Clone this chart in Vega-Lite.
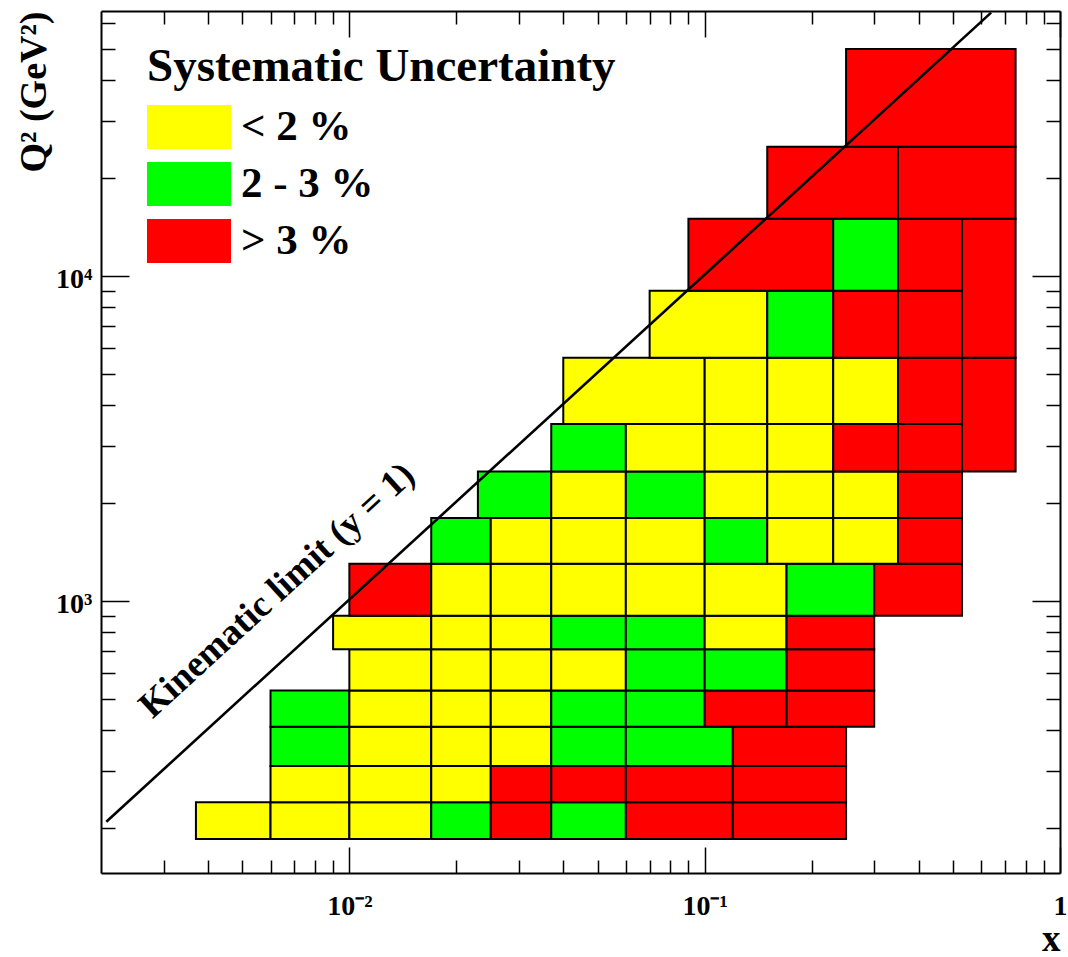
{
  "$schema": "https://vega.github.io/schema/vega-lite/v6.json",
  "width": 959,
  "height": 862,
  "autosize": {"type": "none"},
  "padding": {"left": 101, "top": 11, "right": 8, "bottom": 84},
  "background": "white",
  "config": {
    "view": {"stroke": null},
    "font": "Liberation Serif"
  },
  "datasets": {
    "cells": [
      {"x1": 0.0037, "x2": 0.006, "q1": 185, "q2": 240, "u": "< 2 %"},
      {"x1": 0.006, "x2": 0.01, "q1": 185, "q2": 240, "u": "< 2 %"},
      {"x1": 0.01, "x2": 0.017, "q1": 185, "q2": 240, "u": "< 2 %"},
      {"x1": 0.017, "x2": 0.025, "q1": 185, "q2": 240, "u": "2 - 3 %"},
      {"x1": 0.025, "x2": 0.037, "q1": 185, "q2": 240, "u": "> 3 %"},
      {"x1": 0.037, "x2": 0.06, "q1": 185, "q2": 240, "u": "2 - 3 %"},
      {"x1": 0.06, "x2": 0.12, "q1": 185, "q2": 240, "u": "> 3 %"},
      {"x1": 0.12, "x2": 0.25, "q1": 185, "q2": 240, "u": "> 3 %"},

      {"x1": 0.006, "x2": 0.01, "q1": 240, "q2": 310, "u": "< 2 %"},
      {"x1": 0.01, "x2": 0.017, "q1": 240, "q2": 310, "u": "< 2 %"},
      {"x1": 0.017, "x2": 0.025, "q1": 240, "q2": 310, "u": "< 2 %"},
      {"x1": 0.025, "x2": 0.037, "q1": 240, "q2": 310, "u": "> 3 %"},
      {"x1": 0.037, "x2": 0.06, "q1": 240, "q2": 310, "u": "> 3 %"},
      {"x1": 0.06, "x2": 0.12, "q1": 240, "q2": 310, "u": "> 3 %"},
      {"x1": 0.12, "x2": 0.25, "q1": 240, "q2": 310, "u": "> 3 %"},

      {"x1": 0.006, "x2": 0.01, "q1": 310, "q2": 410, "u": "2 - 3 %"},
      {"x1": 0.01, "x2": 0.017, "q1": 310, "q2": 410, "u": "< 2 %"},
      {"x1": 0.017, "x2": 0.025, "q1": 310, "q2": 410, "u": "< 2 %"},
      {"x1": 0.025, "x2": 0.037, "q1": 310, "q2": 410, "u": "< 2 %"},
      {"x1": 0.037, "x2": 0.06, "q1": 310, "q2": 410, "u": "2 - 3 %"},
      {"x1": 0.06, "x2": 0.12, "q1": 310, "q2": 410, "u": "2 - 3 %"},
      {"x1": 0.12, "x2": 0.25, "q1": 310, "q2": 410, "u": "> 3 %"},

      {"x1": 0.006, "x2": 0.01, "q1": 410, "q2": 530, "u": "2 - 3 %"},
      {"x1": 0.01, "x2": 0.017, "q1": 410, "q2": 530, "u": "< 2 %"},
      {"x1": 0.017, "x2": 0.025, "q1": 410, "q2": 530, "u": "< 2 %"},
      {"x1": 0.025, "x2": 0.037, "q1": 410, "q2": 530, "u": "< 2 %"},
      {"x1": 0.037, "x2": 0.06, "q1": 410, "q2": 530, "u": "2 - 3 %"},
      {"x1": 0.06, "x2": 0.1, "q1": 410, "q2": 530, "u": "2 - 3 %"},
      {"x1": 0.1, "x2": 0.17, "q1": 410, "q2": 530, "u": "> 3 %"},
      {"x1": 0.17, "x2": 0.3, "q1": 410, "q2": 530, "u": "> 3 %"},

      {"x1": 0.01, "x2": 0.017, "q1": 530, "q2": 710, "u": "< 2 %"},
      {"x1": 0.017, "x2": 0.025, "q1": 530, "q2": 710, "u": "< 2 %"},
      {"x1": 0.025, "x2": 0.037, "q1": 530, "q2": 710, "u": "< 2 %"},
      {"x1": 0.037, "x2": 0.06, "q1": 530, "q2": 710, "u": "< 2 %"},
      {"x1": 0.06, "x2": 0.1, "q1": 530, "q2": 710, "u": "2 - 3 %"},
      {"x1": 0.1, "x2": 0.17, "q1": 530, "q2": 710, "u": "2 - 3 %"},
      {"x1": 0.17, "x2": 0.3, "q1": 530, "q2": 710, "u": "> 3 %"},

      {"x1": 0.009, "x2": 0.017, "q1": 710, "q2": 900, "u": "< 2 %"},
      {"x1": 0.017, "x2": 0.025, "q1": 710, "q2": 900, "u": "< 2 %"},
      {"x1": 0.025, "x2": 0.037, "q1": 710, "q2": 900, "u": "< 2 %"},
      {"x1": 0.037, "x2": 0.06, "q1": 710, "q2": 900, "u": "2 - 3 %"},
      {"x1": 0.06, "x2": 0.1, "q1": 710, "q2": 900, "u": "2 - 3 %"},
      {"x1": 0.1, "x2": 0.17, "q1": 710, "q2": 900, "u": "< 2 %"},
      {"x1": 0.17, "x2": 0.3, "q1": 710, "q2": 900, "u": "> 3 %"},

      {"x1": 0.01, "x2": 0.017, "q1": 900, "q2": 1300, "u": "> 3 %"},
      {"x1": 0.017, "x2": 0.025, "q1": 900, "q2": 1300, "u": "< 2 %"},
      {"x1": 0.025, "x2": 0.037, "q1": 900, "q2": 1300, "u": "< 2 %"},
      {"x1": 0.037, "x2": 0.06, "q1": 900, "q2": 1300, "u": "< 2 %"},
      {"x1": 0.06, "x2": 0.1, "q1": 900, "q2": 1300, "u": "< 2 %"},
      {"x1": 0.1, "x2": 0.17, "q1": 900, "q2": 1300, "u": "< 2 %"},
      {"x1": 0.17, "x2": 0.3, "q1": 900, "q2": 1300, "u": "2 - 3 %"},
      {"x1": 0.3, "x2": 0.53, "q1": 900, "q2": 1300, "u": "> 3 %"},

      {"x1": 0.017, "x2": 0.025, "q1": 1300, "q2": 1800, "u": "2 - 3 %"},
      {"x1": 0.025, "x2": 0.037, "q1": 1300, "q2": 1800, "u": "< 2 %"},
      {"x1": 0.037, "x2": 0.06, "q1": 1300, "q2": 1800, "u": "< 2 %"},
      {"x1": 0.06, "x2": 0.1, "q1": 1300, "q2": 1800, "u": "< 2 %"},
      {"x1": 0.1, "x2": 0.15, "q1": 1300, "q2": 1800, "u": "2 - 3 %"},
      {"x1": 0.15, "x2": 0.23, "q1": 1300, "q2": 1800, "u": "< 2 %"},
      {"x1": 0.23, "x2": 0.35, "q1": 1300, "q2": 1800, "u": "< 2 %"},
      {"x1": 0.35, "x2": 0.53, "q1": 1300, "q2": 1800, "u": "> 3 %"},

      {"x1": 0.023, "x2": 0.037, "q1": 1800, "q2": 2500, "u": "2 - 3 %"},
      {"x1": 0.037, "x2": 0.06, "q1": 1800, "q2": 2500, "u": "< 2 %"},
      {"x1": 0.06, "x2": 0.1, "q1": 1800, "q2": 2500, "u": "2 - 3 %"},
      {"x1": 0.1, "x2": 0.15, "q1": 1800, "q2": 2500, "u": "< 2 %"},
      {"x1": 0.15, "x2": 0.23, "q1": 1800, "q2": 2500, "u": "< 2 %"},
      {"x1": 0.23, "x2": 0.35, "q1": 1800, "q2": 2500, "u": "< 2 %"},
      {"x1": 0.35, "x2": 0.53, "q1": 1800, "q2": 2500, "u": "> 3 %"},

      {"x1": 0.037, "x2": 0.06, "q1": 2500, "q2": 3500, "u": "2 - 3 %"},
      {"x1": 0.06, "x2": 0.1, "q1": 2500, "q2": 3500, "u": "< 2 %"},
      {"x1": 0.1, "x2": 0.15, "q1": 2500, "q2": 3500, "u": "< 2 %"},
      {"x1": 0.15, "x2": 0.23, "q1": 2500, "q2": 3500, "u": "< 2 %"},
      {"x1": 0.23, "x2": 0.35, "q1": 2500, "q2": 3500, "u": "> 3 %"},
      {"x1": 0.35, "x2": 0.53, "q1": 2500, "q2": 3500, "u": "> 3 %"},
      {"x1": 0.53, "x2": 0.75, "q1": 2500, "q2": 5600, "u": "> 3 %"},

      {"x1": 0.04, "x2": 0.1, "q1": 3500, "q2": 5600, "u": "< 2 %"},
      {"x1": 0.1, "x2": 0.15, "q1": 3500, "q2": 5600, "u": "< 2 %"},
      {"x1": 0.15, "x2": 0.23, "q1": 3500, "q2": 5600, "u": "< 2 %"},
      {"x1": 0.23, "x2": 0.35, "q1": 3500, "q2": 5600, "u": "< 2 %"},
      {"x1": 0.35, "x2": 0.53, "q1": 3500, "q2": 5600, "u": "> 3 %"},

      {"x1": 0.07, "x2": 0.15, "q1": 5600, "q2": 9000, "u": "< 2 %"},
      {"x1": 0.15, "x2": 0.23, "q1": 5600, "q2": 9000, "u": "2 - 3 %"},
      {"x1": 0.23, "x2": 0.35, "q1": 5600, "q2": 9000, "u": "> 3 %"},
      {"x1": 0.35, "x2": 0.53, "q1": 5600, "q2": 9000, "u": "> 3 %"},
      {"x1": 0.53, "x2": 0.75, "q1": 5600, "q2": 15000, "u": "> 3 %"},

      {"x1": 0.09, "x2": 0.23, "q1": 9000, "q2": 15000, "u": "> 3 %"},
      {"x1": 0.23, "x2": 0.35, "q1": 9000, "q2": 15000, "u": "2 - 3 %"},
      {"x1": 0.35, "x2": 0.53, "q1": 9000, "q2": 15000, "u": "> 3 %"},

      {"x1": 0.15, "x2": 0.35, "q1": 15000, "q2": 25000, "u": "> 3 %"},
      {"x1": 0.35, "x2": 0.75, "q1": 15000, "q2": 25000, "u": "> 3 %"},

      {"x1": 0.25, "x2": 0.75, "q1": 25000, "q2": 50000, "u": "> 3 %"}
    ],
    "limit": [
      {"x": 0.00207, "q2": 209},
      {"x": 0.64, "q2": 64640}
    ],
    "note": [
      {"x": 0.00626, "q2": 1075, "label": "Kinematic limit (y = 1)"}
    ]
  },
  "layer": [
    {
      "data": {"name": "cells"},
      "mark": {"type": "rect", "stroke": "black", "strokeWidth": 2},
      "encoding": {
        "x": {
          "field": "x1", "type": "quantitative",
          "scale": {"type": "log", "domain": [0.002, 1], "nice": false, "zero": false},
          "axis": {
            "orient": "bottom",
            "values": [0.003, 0.004, 0.005, 0.006, 0.007, 0.008, 0.009, 0.01, 0.02, 0.03, 0.04, 0.05, 0.06, 0.07, 0.08, 0.09, 0.1, 0.2, 0.3, 0.4, 0.5, 0.6, 0.7, 0.8, 0.9, 1],
            "labelExpr": "datum.value == 0.01 ? '10⁻²' : datum.value == 0.1 ? '10⁻¹' : datum.value == 1 ? '1' : ''",
            "tickSize": {"condition": {"test": "datum.value == 0.01 || datum.value == 0.1 || datum.value == 1", "value": -26}, "value": -13},
            "tickWidth": 1.5, "tickColor": "black",
            "domainColor": "black", "domainWidth": 2,
            "grid": false,
            "labelFont": "Liberation Serif", "labelFontWeight": "bold", "labelFontSize": 28, "labelColor": "black",
            "labelBaseline": "alphabetic", "labelPadding": 67, "labelFlush": false, "labelOverlap": false,
            "title": "x",
            "titleFont": "Liberation Serif", "titleFontWeight": "bold", "titleFontSize": 37, "titleColor": "black",
            "titleX": 959, "titleY": 77, "titleAlign": "right", "titleBaseline": "alphabetic",
            "zindex": 1
          }
        },
        "x2": {"field": "x2"},
        "y": {
          "field": "q1", "type": "quantitative",
          "scale": {"type": "log", "domain": [145.3, 65400], "nice": false, "zero": false},
          "axis": {
            "orient": "left",
            "values": [200, 300, 400, 500, 600, 700, 800, 900, 1000, 2000, 3000, 4000, 5000, 6000, 7000, 8000, 9000, 10000, 20000, 30000, 40000, 50000, 60000],
            "labelExpr": "datum.value == 1000 ? '10³' : datum.value == 10000 ? '10⁴' : ''",
            "tickSize": {"condition": {"test": "datum.value == 1000 || datum.value == 10000", "value": -28}, "value": -14},
            "tickWidth": 1.5, "tickColor": "black",
            "domainColor": "black", "domainWidth": 2,
            "grid": false,
            "labelFont": "Liberation Serif", "labelFontWeight": "bold", "labelFontSize": 28, "labelColor": "black",
            "labelAlign": "right", "labelBaseline": "middle", "labelPadding": 37, "labelOffset": 4, "labelFlush": false, "labelOverlap": false,
            "title": "Q² (GeV²)",
            "titleFont": "Liberation Serif", "titleFontWeight": "bold", "titleFontSize": 38, "titleColor": "black",
            "titleX": -56, "titleY": 0, "titleAngle": -90, "titleAlign": "right", "titleBaseline": "alphabetic",
            "zindex": 1
          }
        },
        "y2": {"field": "q2"},
        "color": {
          "field": "u", "type": "nominal",
          "scale": {"domain": ["< 2 %", "2 - 3 %", "> 3 %"], "range": ["#ffff00", "#00ff00", "#ff0000"]},
          "legend": {
            "orient": "none", "legendX": 46, "legendY": 33, "padding": 0,
            "title": "Systematic Uncertainty",
            "titleFont": "Liberation Serif", "titleFontSize": 47, "titleFontWeight": "bold", "titleColor": "black", "titlePadding": 14, "titleLimit": 700,
            "symbolType": "M-1.909,-1H1.909V1H-1.909Z", "symbolSize": 1936, "symbolStrokeWidth": 0, "symbolOffset": 20, "symbolOpacity": 1,
            "labelFont": "Liberation Serif", "labelFontSize": 43, "labelFontWeight": "bold", "labelColor": "black", "labelOffset": 30, "labelLimit": 400,
            "rowPadding": 13,
            "encode": {"labels": {"update": {"dy": {"value": 8}}}}
          }
        }
      }
    },
    {
      "data": {"name": "limit"},
      "mark": {"type": "line", "color": "black", "strokeWidth": 2.6, "clip": true},
      "encoding": {
        "x": {
          "field": "x", "type": "quantitative",
          "scale": {"type": "log", "domain": [0.002, 1], "nice": false, "zero": false},
          "axis": {
            "orient": "top",
            "values": [0.003, 0.004, 0.005, 0.006, 0.007, 0.008, 0.009, 0.01, 0.02, 0.03, 0.04, 0.05, 0.06, 0.07, 0.08, 0.09, 0.1, 0.2, 0.3, 0.4, 0.5, 0.6, 0.7, 0.8, 0.9, 1],
            "labels": false,
            "tickSize": {"condition": {"test": "datum.value == 0.01 || datum.value == 0.1 || datum.value == 1", "value": -26}, "value": -13},
            "tickWidth": 1.5, "tickColor": "black",
            "domainColor": "black", "domainWidth": 2,
            "grid": false, "title": null, "zindex": 1
          }
        },
        "y": {
          "field": "q2", "type": "quantitative",
          "scale": {"type": "log", "domain": [145.3, 65400], "nice": false, "zero": false},
          "axis": {
            "orient": "right",
            "values": [200, 300, 400, 500, 600, 700, 800, 900, 1000, 2000, 3000, 4000, 5000, 6000, 7000, 8000, 9000, 10000, 20000, 30000, 40000, 50000, 60000],
            "labels": false,
            "tickSize": {"condition": {"test": "datum.value == 1000 || datum.value == 10000", "value": -28}, "value": -14},
            "tickWidth": 1.5, "tickColor": "black",
            "domainColor": "black", "domainWidth": 2,
            "grid": false, "title": null, "zindex": 1
          }
        }
      }
    },
    {
      "data": {"name": "note"},
      "mark": {"type": "text", "angle": 317.55, "font": "Liberation Serif", "fontWeight": "bold", "fontSize": 37, "align": "center", "baseline": "middle", "color": "black"},
      "encoding": {
        "x": {"field": "x", "type": "quantitative", "scale": {"type": "log", "domain": [0.002, 1], "nice": false, "zero": false}, "axis": null},
        "y": {"field": "q2", "type": "quantitative", "scale": {"type": "log", "domain": [145.3, 65400], "nice": false, "zero": false}, "axis": null},
        "text": {"field": "label"}
      }
    }
  ],
  "resolve": {"axis": {"x": "independent", "y": "independent"}}
}
